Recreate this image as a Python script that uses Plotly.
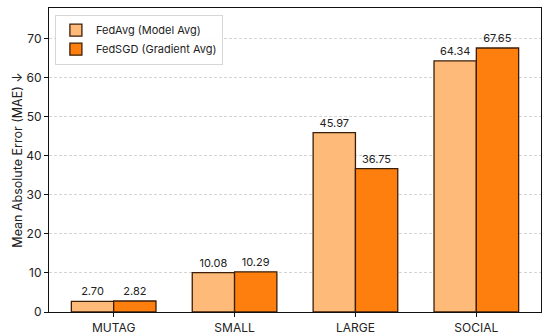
import plotly.graph_objects as go

categories = ["MUTAG", "SMALL", "LARGE", "SOCIAL"]
fedavg = [2.70, 10.08, 45.97, 64.34]
fedsgd = [2.82, 10.29, 36.75, 67.65]
series_names = ["FedAvg (Model Avg)", "FedSGD (Gradient Avg)"]

xs = list(range(len(categories)))
edge = "#3b1e08"
font = "Inter, Lato, sans-serif"

fig = go.Figure()
fig.add_trace(go.Bar(
    x=xs, y=fedavg, name=series_names[0], width=0.35, offset=-0.35,
    marker=dict(color="#fdba78", line=dict(color=edge, width=1.3)),
    text=[f"{v:.2f}" for v in fedavg], textposition="outside",
    textfont=dict(size=11, color="#222"), cliponaxis=False,
))
fig.add_trace(go.Bar(
    x=xs, y=fedsgd, name=series_names[1], width=0.35, offset=0,
    marker=dict(color="#ff7f0e", line=dict(color=edge, width=1.3)),
    text=[f"{v:.2f}" for v in fedsgd], textposition="outside",
    textfont=dict(size=11, color="#222"), cliponaxis=False,
))

fig.update_layout(
    width=550, height=334,
    margin=dict(l=49, r=9, t=8, b=22, autoexpand=False),
    paper_bgcolor="white", plot_bgcolor="white",
    font=dict(family=font, size=12, color="#222"),
    showlegend=True,
    legend=dict(x=0.012, y=0.978, xanchor="left", yanchor="top",
                bgcolor="rgba(255,255,255,0.9)", bordercolor="#d6d6d6", borderwidth=1,
                font=dict(size=11), tracegroupgap=0),
    xaxis=dict(range=[-0.535, 3.535], tickvals=xs, ticktext=categories,
               showline=True, linecolor="#111", linewidth=1.2, mirror=True,
               ticks="outside", ticklen=4, tickcolor="#111", showgrid=False,
               zeroline=False, automargin=False),
    yaxis=dict(range=[0, 77.9], dtick=10, showline=True, linecolor="#111",
               linewidth=1.2, mirror=True, ticks="outside", ticklen=4,
               tickcolor="#111", showgrid=True, gridcolor="#d4d4d4",
               griddash="3px,2px", gridwidth=0.8, zeroline=False, automargin=False,
               title=dict(text="Mean Absolute Error (MAE) ↓", font=dict(size=12.5), standoff=0)),
)

fig.write_html("out.html", config={"displayModeBar": False},
               post_script="document.body.style.margin='0';document.body.style.overflow='hidden';")
